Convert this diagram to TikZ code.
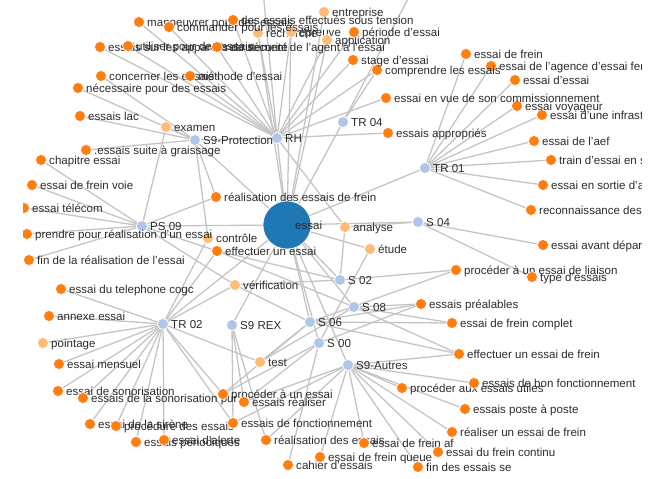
\documentclass[tikz,border=0pt]{standalone}
\usepackage{fontspec}
\setmainfont{Liberation Sans}
\pgfdeclarelayer{edges}
\pgfsetlayers{edges,main}
\definecolor{termorange}{HTML}{FF7F0E}
\definecolor{synorange}{HTML}{FFBB78}
\definecolor{sectblue}{HTML}{AEC7E8}
\definecolor{hubblue}{HTML}{1F77B4}
\definecolor{edgegray}{HTML}{C4C4C4}
\definecolor{labelgray}{HTML}{2B2B2B}
\tikzset{
  edge/.style={draw=edgegray, line width=1.1pt},
  ball/.style={circle, draw=white, line width=0.5pt, minimum size=0.33cm, inner sep=0pt},
  term/.style={ball, fill=termorange},
  syn/.style={ball, fill=synorange},
  sect/.style={ball, fill=sectblue},
  hub/.style={ball, fill=hubblue, minimum size=1.44cm},
  lbl/.style={anchor=base west, inner sep=0pt, text=labelgray, font=\fontsize{9.85}{12}\selectfont}
}
\begin{document}
\begin{tikzpicture}[x=0.03cm, y=-0.03cm]
  \useasboundingbox (0,0) rectangle (661,479);
  \begin{scope}
    \clip (23,0) rectangle (641,479);
    % Loose ends above the frame
    \coordinate (offA) at (262,-20);
    \coordinate (offB) at (418,-20);

    % Sections and the main term
    \foreach \x/\y/\s/\n/\t in {277/138/sect/rh/RH, 195/140/sect/s9p/S9-Protection,
        343/122/sect/tr04/TR 04, 425/168/sect/tr01/TR 01, 142/226/sect/ps09/PS 09,
        418/222/sect/s04/S 04, 340/280/sect/s02/S 02, 354/307/sect/s08/S 08,
        310/322/sect/s06/S 06, 319/343/sect/s00/S 00, 348/365/sect/s9a/S9-Autres,
        232/325/sect/s9r/S9 REX, 163/324/sect/tr02/TR 02} {
      \node[\s] (\n) at (\x,\y) {};
      \node[lbl] (\n-l) at (\x+8,\y+4.2) {\t};
    }

    % Synonyms
    \foreach \x/\y/\n/\t in {166/127/examen/examen, 208/238/controle/contrôle,
        235/285/verif/vérification, 345/227/analyse/analyse, 370/249/etude/étude,
        260/362/test/test, 43/343/pointage/pointage, 258/33/recherche/recherche,
        291/32/epreuve/épreuve, 327/40/application/application, 324/12/entreprise/entreprise} {
      \node[syn] (\n) at (\x,\y) {};
      \node[lbl] (\n-l) at (\x+8,\y+4.2) {\t};
    }

    % Terms
    \foreach \x/\y/\n/\t in {139/22/manoeuvrer/manoeuvrer pour des essais,
        169/27/commander/commander pour les essais,
        233/20/tension/des essais effectués sous tension,
        100/47/appareils/essais sur les appareils de sécurité,
        128/46/utiliser/utiliser pour des essais,
        217/47/recrutement/recrutement de l'agent à l'essai,
        101/76/concerner/concerner les essais, 190/76/methode/méthode d'essai,
        78/88/necessaire/nécessaire pour des essais, 80/116/lac/essais lac,
        86/150/graissage/.essais suite à graissage, 41/160/chapitre/chapitre essai,
        32/185/freinvoie/essai de frein voie, 24/208/telecom/essai télécom,
        27/234/prendre/prendre pour réalisation d'un essai,
        29/260/finreal/fin de la réalisation de l'essai,
        61/289/cogc/essai du telephone cogc, 49/316/annexe/annexe essai,
        59/364/mensuel/essai mensuel, 58/391/sono/essai de sonorisation,
        83/398/sonopur/essais de la sonorisation pur, 90/424/sirene/essai de la sirène,
        116/426/procedure/procédure des essais, 136/442/periodiques/essais périodiques,
        164/440/alerte/essai d'alerte, 223/394/processai/procéder à un essai,
        244/402/realiser/essais réaliser, 233/423/fonct/essais de fonctionnement,
        266/440/realessais/réalisation des essais, 288/465/cahier/cahier d'essais,
        320/457/freinqueue/essai de frein queue, 364/443/freinaf/essai de frein af,
        438/452/freincontinu/essai du frein continu, 418/467/finse/fin des essais se,
        452/432/realiserfrein/réaliser un essai de frein,
        465/409/poste/essais poste à poste, 402/388/procutiles/procéder aux essais utiles,
        474/383/bonfonct/essais de bon fonctionnement,
        459/354/efffrein/effectuer un essai de frein,
        452/323/freincomplet/essai de frein complet, 421/304/prealables/essais préalables,
        456/270/liaison/procéder à un essai de liaison, 532/277/typeess/type d'essais,
        543/245/avantdep/essai avant départ, 531/210/reconn/reconnaissance des essais,
        543/185/sortie/essai en sortie d'atelier, 551/160/train/train d'essai en service,
        534/141/aef/essai de l'aef, 542/115/infra/essai d'une infrastructure,
        517/106/voyageur/essai voyageur, 515/80/essaiessai/essai d'essai,
        491/66/agence/essai de l'agence d'essai ferroviaire, 466/54/essaifrein/essai de frein,
        388/133/appropries/essais appropriés,
        386/98/commiss/essai en vue de son commissionnement,
        377/70/comprendre/comprendre les essais, 353/60/stage/stage d'essai,
        354/32/periode/période d'essai, 216/197/realfrein/réalisation des essais de frein,
        217/251/effectuer/effectuer un essai} {
      \node[term] (\n) at (\x,\y) {};
      \node[lbl] (\n-l) at (\x+8,\y+4.2) {\t};
    }

    \node[hub] (essai) at (287,225) {};
    \node[lbl] (essai-l) at (295,229.2) {essai};
  \end{scope}

  % Edges behind everything
  \begin{pgfonlayer}{edges}
    \begin{scope}
      \clip (23,0) rectangle (641,479);
      \foreach \a in {rh, s9p, tr04, tr01, ps09, s04, s02, s08, s06, s00, s9a, s9r, tr02,
          etude, recherche, epreuve, application, entreprise}
        \draw[edge] (essai) -- (\a);
      \foreach \a/\b in {examen/s9p, examen/ps09, controle/s9p, controle/tr02,
          verif/ps09, verif/s02, verif/s06, verif/tr02, analyse/s04, analyse/s02, analyse/rh,
          etude/s00, test/tr02, test/s06, test/s08, pointage/tr02, recherche/rh,
          epreuve/rh, application/rh, s9p/rh, offA/rh, offB/tr04} {
        \draw[edge] (\a) -- (\b);
      }
      % RH and TR 04
      \foreach \a in {manoeuvrer, commander, tension, appareils, utiliser, recrutement,
          methode, stage, periode, comprendre, commiss, appropries}
        \draw[edge] (rh) -- (\a);
      \draw[edge] (tr04) -- (comprendre);
      % S9-Protection and PS 09
      \foreach \a in {concerner, necessaire, lac, graissage, realfrein}
        \draw[edge] (s9p) -- (\a);
      \foreach \a in {chapitre, freinvoie, telecom, prendre, finreal, realfrein, effectuer}
        \draw[edge] (ps09) -- (\a);
      % TR 02 and S9 REX
      \foreach \a in {cogc, annexe, mensuel, sono, sonopur, sirene, procedure, periodiques,
          alerte, processai, fonct, effectuer}
        \draw[edge] (tr02) -- (\a);
      \foreach \a in {fonct, realessais, realiser}
        \draw[edge] (s9r) -- (\a);
      % S 0x sections
      \foreach \a/\b in {s06/processai, s06/liaison, s06/prealables, s06/freincomplet,
          s06/efffrein, s00/processai, s00/cahier, s00/realiser, s00/prealables,
          s08/effectuer, s08/prealables, s08/freincomplet, s08/efffrein,
          s02/effectuer, s02/liaison, s04/typeess, s04/avantdep} {
        \draw[edge] (\a) -- (\b);
      }
      % S9-Autres
      \foreach \a in {realiser, fonct, realessais, freinqueue, freinaf, freincontinu, finse,
          realiserfrein, poste, procutiles, bonfonct, efffrein}
        \draw[edge] (s9a) -- (\a);
      % TR 01
      \foreach \a in {reconn, sortie, train, aef, infra, voyageur, essaiessai, agence, essaifrein}
        \draw[edge] (tr01) -- (\a);
    \end{scope}
  \end{pgfonlayer}
\end{tikzpicture}
\end{document}
